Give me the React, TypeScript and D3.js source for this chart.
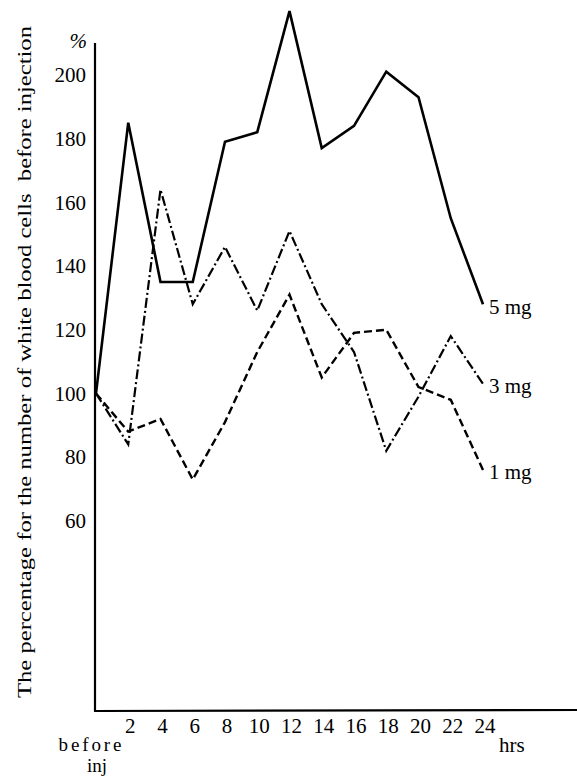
import * as d3 from "d3";
import { useEffect, useRef } from "react";

// hours after injection (0 = before injection)
const hours = [0, 2, 4, 6, 8, 10, 12, 14, 16, 18, 20, 22, 24];
const mg5 = [100, 185, 135, 135, 179, 182, 220, 177, 184, 201, 193, 155, 128];
const mg3 = [100, 84, 164, 128, 146, 126, 151, 128, 113, 82, 99, 118, 103];
const mg1 = [100, 88, 92, 73, 91, 113, 131, 105, 119, 120, 102, 98, 76];

const series = [
  { name: "5 mg", values: mg5, dash: null, width: 2.6 },
  { name: "3 mg", values: mg3, dash: "10,3,2,3", width: 2.2 },
  { name: "1 mg", values: mg1, dash: "8,4", width: 2.4 },
];

const yTicks = [60, 80, 100, 120, 140, 160, 180, 200];
const xTicks = [2, 4, 6, 8, 10, 12, 14, 16, 18, 20, 22, 24];
const yTitle = "The percentage for the number of white blood cells  before injection";

export default function App() {
  const ref = useRef<SVGSVGElement | null>(null);

  useEffect(() => {
    const svg = d3.select(ref.current);
    svg.selectAll("*").remove();

    const font = "Liberation Serif, DejaVu Serif, serif";

    const x = d3.scaleLinear().domain([0, 24]).range([96, 483]);
    const y = d3.scaleLinear().domain([0, 210]).range([712, 43]);

    // axes (plain lines, no tick marks)
    svg.append("line")
      .attr("x1", 95).attr("x2", 95)
      .attr("y1", y(210)).attr("y2", y(0) - 1)
      .attr("stroke", "#000").attr("stroke-width", 2.2);
    svg.append("line")
      .attr("x1", 94).attr("x2", 577)
      .attr("y1", y(0) - 1).attr("y2", y(0) - 2)
      .attr("stroke", "#000").attr("stroke-width", 2.2);

    // y tick labels
    svg.append("g")
      .selectAll("text")
      .data(yTicks)
      .join("text")
      .attr("x", 86)
      .attr("y", d => y(d))
      .attr("dy", "0.35em")
      .attr("text-anchor", "end")
      .style("font-family", font)
      .attr("font-size", 21)
      .text(d => d);

    svg.append("text")
      .attr("x", 87).attr("y", 48)
      .attr("text-anchor", "end")
      .style("font-family", font)
      .attr("font-size", 21)
      .attr("font-style", "italic")
      .text("%");

    // x tick labels
    svg.append("g")
      .selectAll("text")
      .data(xTicks)
      .join("text")
      .attr("x", d => x(d) + 2)
      .attr("y", 733)
      .attr("text-anchor", "middle")
      .style("font-family", font)
      .attr("font-size", 21)
      .text(d => d);

    svg.append("text")
      .attr("x", 90).attr("y", 751)
      .attr("text-anchor", "middle")
      .style("font-family", font)
      .attr("font-size", 19)
      .attr("textLength", 63)
      .text("before");
    svg.append("text")
      .attr("x", 97).attr("y", 772)
      .attr("text-anchor", "middle")
      .style("font-family", font)
      .attr("font-size", 19)
      .text("inj");
    svg.append("text")
      .attr("x", 499).attr("y", 752)
      .style("font-family", font)
      .attr("font-size", 21)
      .text("hrs");

    // y axis title
    svg.append("text")
      .attr("transform", "translate(31,698) rotate(-90)")
      .style("font-family", font)
      .attr("font-size", 19)
      .attr("textLength", 672)
      .attr("lengthAdjust", "spacingAndGlyphs")
      .style("white-space", "pre")
      .text(yTitle);

    // lines
    const line = d3.line<number>()
      .x((_, i) => x(hours[i]))
      .y(d => y(d));

    svg.append("g")
      .selectAll("path")
      .data(series)
      .join("path")
      .attr("d", d => line(d.values))
      .attr("fill", "none")
      .attr("stroke", "#000")
      .attr("stroke-width", d => d.width)
      .attr("stroke-linejoin", "miter")
      .attr("stroke-dasharray", d => d.dash);

    // series labels at the line ends
    svg.append("g")
      .selectAll("text")
      .data(series)
      .join("text")
      .attr("x", x(24) + 6)
      .attr("y", d => y(d.values[d.values.length - 1]) + 2)
      .attr("dy", "0.35em")
      .style("font-family", font)
      .attr("font-size", 21)
      .text(d => d.name);
  }, []);

  return (
    <svg
      ref={ref}
      width={577}
      height={781}
      style={{ position: "absolute", left: 0, top: 0, background: "#fff" }}
    />
  );
}
